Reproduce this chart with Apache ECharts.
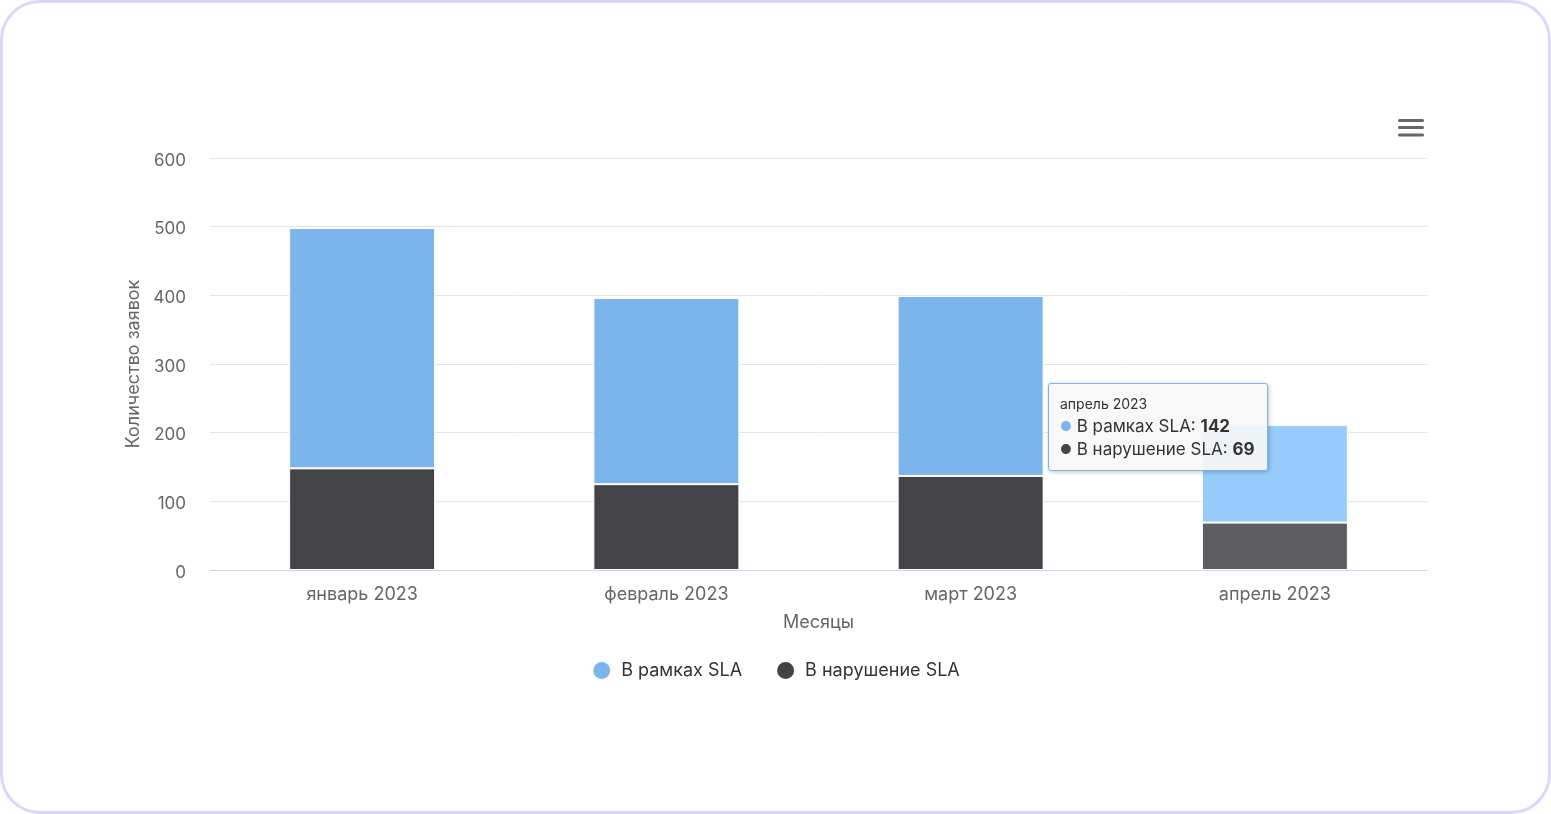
<!DOCTYPE html>
<html>
<head>
<meta charset="utf-8">
<script src="https://cdn.jsdelivr.net/npm/echarts@6/dist/echarts.min.js"></script>
<style>
html,body{margin:0;padding:0;background:#fff;}
#wrap{position:relative;width:1551px;height:814px;}
#chart{position:absolute;left:0;top:0;width:1551px;height:814px;}
#frame{position:absolute;left:0;top:0;width:1551px;height:814px;box-sizing:border-box;border:3px solid #ddd6f7;border-radius:40px;pointer-events:none;}
</style>
</head>
<body>
<div id="wrap"><div id="chart"></div><div id="frame"></div></div>
<script>
const months = ['январь 2023', 'февраль 2023', 'март 2023', 'апрель 2023'];
const withinSla = [350, 271, 262, 142];
const breachSla = [148, 125, 137, 69];
const seriesNames = ['В рамках SLA', 'В нарушение SLA'];
const hoverIndex = 3;

const FONT = 'Inter, Roboto, "Noto Sans", sans-serif';
const blue = '#7cb5ec', blueHover = '#96cbfc';
const dark = '#434348', darkHover = '#5c5c61';

const chart = echarts.init(document.getElementById('chart'));
chart.setOption({
  animation: false,
  textStyle: { fontFamily: FONT },
  grid: { left: 210, right: 124, top: 158, bottom: 244, containLabel: false },
  tooltip: {
    trigger: 'axis',
    alwaysShowContent: true,
    axisPointer: { type: 'none' },
    position: [1048, 383],
    backgroundColor: 'rgba(247,247,247,0.9)',
    borderColor: '#7cb5ec',
    borderWidth: 1,
    padding: [9, 11, 9, 11],
    extraCssText: 'border-radius:3px;box-shadow:1px 1px 4px rgba(0,0,0,0.25);width:196px;',
    textStyle: { fontFamily: FONT, color: '#333' },
    formatter: function (params) {
      const i = params[0].dataIndex;
      const dot = c => '<span style="color:' + c + ';font-size:13px;vertical-align:1px;">●</span> ';
      return '<div style="font-size:14px;line-height:22px;">' + months[i] + '</div>' +
        '<div style="font-size:17px;line-height:23px;white-space:nowrap;">' + dot(blue) + seriesNames[0] + ': <b>' + withinSla[i] + '</b></div>' +
        '<div style="font-size:17px;line-height:23px;white-space:nowrap;">' + dot(dark) + seriesNames[1] + ': <b>' + breachSla[i] + '</b></div>';
    }
  },
  legend: {
    data: [
      { name: seriesNames[0], itemStyle: { color: blue } },
      { name: seriesNames[1], itemStyle: { color: dark } }
    ],
    top: 655,
    left: 'center',
    icon: 'circle',
    itemWidth: 19,
    itemHeight: 19,
    itemGap: 33,
    textStyle: { fontSize: 18, color: '#333', fontFamily: FONT, padding: [0, 0, 0, 5] }
  },
  xAxis: {
    type: 'category',
    data: months,
    name: 'Месяцы',
    nameLocation: 'middle',
    nameGap: 44,
    nameTextStyle: { fontSize: 18, color: '#666' },
    axisLine: { lineStyle: { color: '#ccd6eb' } },
    axisTick: { show: false },
    axisLabel: { fontSize: 18, color: '#666', margin: 16 }
  },
  yAxis: {
    type: 'value',
    min: 0, max: 600, interval: 100,
    name: 'Количество заявок',
    nameLocation: 'middle',
    nameGap: 65,
    nameTextStyle: { fontSize: 18, color: '#666' },
    axisLabel: { fontSize: 17, color: '#666', margin: 24, verticalAlign: 'top', lineHeight: 5 },
    splitLine: { lineStyle: { color: '#e6e6e6' } },
    axisLine: { show: false },
    axisTick: { show: false }
  },
  series: [
    {
      name: seriesNames[1], type: 'bar', stack: 'total', data: breachSla,
      barWidth: 146,
      itemStyle: { color: p => p.dataIndex === hoverIndex ? darkHover : dark, borderColor: '#fff', borderWidth: 1 },
      emphasis: { disabled: true }
    },
    {
      name: seriesNames[0], type: 'bar', stack: 'total', data: withinSla,
      barWidth: 146,
      itemStyle: { color: p => p.dataIndex === hoverIndex ? blueHover : blue, borderColor: '#fff', borderWidth: 1 },
      emphasis: { disabled: true }
    }
  ],
  graphic: [
    { type: 'rect', shape: { x: 1398, y: 119, width: 26, height: 3, r: 1.5 }, style: { fill: '#666' } },
    { type: 'rect', shape: { x: 1398, y: 126, width: 26, height: 3, r: 1.5 }, style: { fill: '#666' } },
    { type: 'rect', shape: { x: 1398, y: 133.5, width: 26, height: 3, r: 1.5 }, style: { fill: '#666' } }
  ]
});
chart.dispatchAction({ type: 'showTip', seriesIndex: 0, dataIndex: hoverIndex });
</script>
</body>
</html>
